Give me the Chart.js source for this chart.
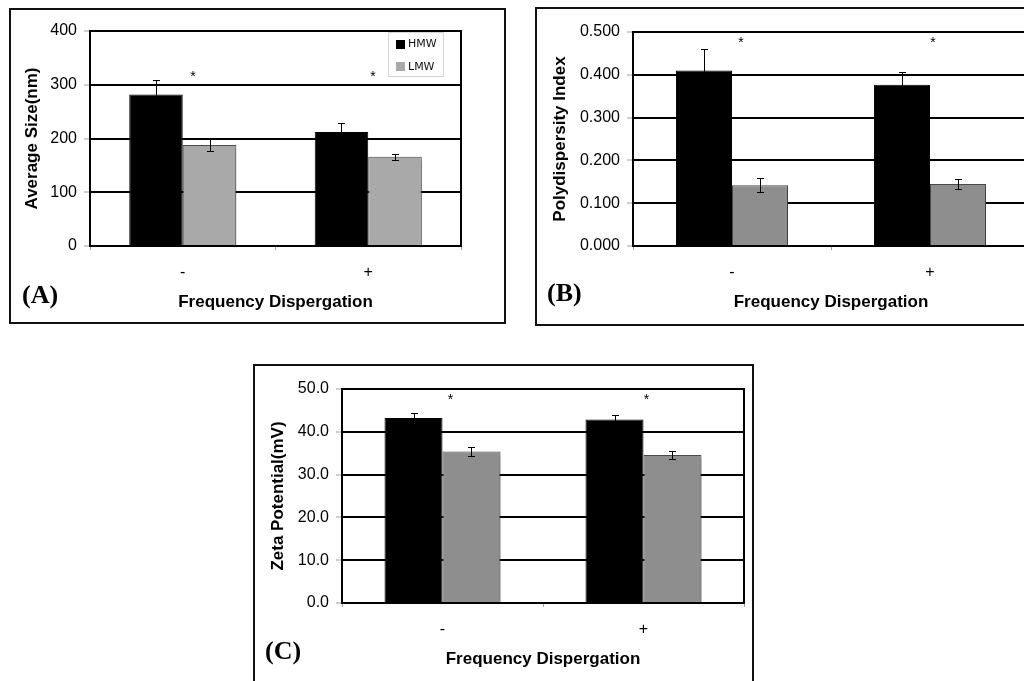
<!DOCTYPE html>
<html>
<head>
<meta charset="utf-8">
<script src="https://cdn.jsdelivr.net/npm/chart.js@4.4.0/dist/chart.umd.min.js"></script>
<style>
  html, body { margin: 0; padding: 0; background: #fff; width: 1024px; height: 681px; overflow: hidden; position: relative; }
  .box { position: absolute; box-sizing: border-box; border: 2px solid #111; background: #fff; }
  canvas { position: absolute; }
  .tag { position: absolute; font: bold 26px "Liberation Serif", "Times New Roman", serif; line-height: 26px; color: #000; }
</style>
</head>
<body>
<div class="box" style="left:9px;top:8px;width:497px;height:316px"></div>
<div class="box" style="left:535px;top:7px;width:600px;height:319px"></div>
<div class="box" style="left:253px;top:364px;width:501px;height:400px"></div>

<canvas id="chartSize" width="515" height="335" style="left:0;top:0"></canvas>
<canvas id="chartPdi" width="520" height="335" style="left:520px;top:0"></canvas>
<canvas id="chartZeta" width="510" height="321" style="left:250px;top:360px"></canvas>

<div class="tag" style="left:22px;top:282px">(A)</div>
<div class="tag" style="left:547px;top:280px">(B)</div>
<div class="tag" style="left:265px;top:638px">(C)</div>

<script>
// Shared categories and series
const categories = ['-', '+'];
const seriesNames = ['HMW', 'LMW'];
const xTitle = 'Frequency Dispergation';

// (A) Average size (nm)
const sizeHMW = [282, 212];
const sizeHMWErr = [27, 16];
const sizeLMW = [188, 166];
const sizeLMWErr = [11.5, 6];
const sizeTicks = [0, 100, 200, 300, 400];
const sizeStarX = [0.055, 1.026];
const sizeStarY = [322, 322];

// (B) Polydispersity index
const pdiHMW = [0.410, 0.377];
const pdiHMWErr = [0.050, 0.029];
const pdiLMW = [0.142, 0.145];
const pdiLMWErr = [0.016, 0.012];
const pdiTicks = [0, 0.1, 0.2, 0.3, 0.4, 0.5];
const pdiStarX = [0.045, 1.015];
const pdiStarY = [0.484, 0.484];

// (C) Zeta potential (mV)
const zetaHMW = [43.2, 42.9];
const zetaHMWErr = [1.1, 1.1];
const zetaLMW = [35.4, 34.6];
const zetaLMWErr = [1.1, 1.0];
const zetaTicks = [0, 10, 20, 30, 40, 50];
const zetaStarX = [0.04, 1.015];
const zetaStarY = [48.4, 48.4];

Chart.defaults.font.family = '"Liberation Sans", Arial, sans-serif';
Chart.defaults.color = '#000';

// Error bars: vertical whiskers with caps, centred on each bar
const errorBars = {
  id: 'errorBars',
  afterDatasetsDraw(chart) {
    const { ctx } = chart;
    const y = chart.scales.y;
    ctx.save();
    ctx.strokeStyle = '#000';
    ctx.lineWidth = 1;
    chart.data.datasets.forEach((ds, di) => {
      const meta = chart.getDatasetMeta(di);
      meta.data.forEach((bar, i) => {
        const v = ds.data[i], e = ds.errors[i];
        const x = Math.round(bar.x) + 0.5;
        const yTop = Math.round(y.getPixelForValue(v + e)) + 0.5;
        const yBot = Math.round(y.getPixelForValue(v - e)) + 0.5;
        ctx.beginPath();
        ctx.moveTo(x, yTop); ctx.lineTo(x, yBot);
        ctx.moveTo(x - 3.5, yTop); ctx.lineTo(x + 3.5, yTop);
        ctx.moveTo(x - 3.5, yBot); ctx.lineTo(x + 3.5, yBot);
        ctx.stroke();
      });
    });
    ctx.restore();
  }
};

// Significance asterisks placed in axis units
const stars = {
  id: 'stars',
  afterDatasetsDraw(chart, args, opts) {
    const { ctx } = chart;
    const xs = chart.scales.x, ys = chart.scales.y;
    ctx.save();
    ctx.fillStyle = '#000';
    ctx.font = '14px "Liberation Sans", Arial, sans-serif';
    ctx.textAlign = 'center';
    ctx.textBaseline = 'alphabetic';
    opts.x.forEach((xv, i) => {
      const px = xs.getPixelForValue(xv);
      const py = ys.getPixelForValue(opts.y[i]);
      ctx.fillText('*', px, py + 8);
    });
    ctx.restore();
  }
};

// Top and right edges of the plot frame
const frame = {
  id: 'frame',
  beforeDatasetsDraw(chart) {
    const { ctx, chartArea: a } = chart;
    ctx.save();
    ctx.strokeStyle = '#000';
    ctx.lineWidth = 2;
    ctx.beginPath();
    ctx.moveTo(a.left, a.top);
    ctx.lineTo(a.right, a.top);
    ctx.lineTo(a.right, a.bottom);
    ctx.stroke();
    ctx.restore();
  }
};

// Soft drop shadow behind the grey bars
const barShadow = {
  id: 'barShadow',
  beforeDatasetDraw(chart, args) {
    if (args.index !== 1) return;
    const ctx = chart.ctx;
    ctx.save();
    ctx.shadowColor = 'rgba(0,0,0,0.22)';
    ctx.shadowOffsetX = 4;
    ctx.shadowOffsetY = 3;
    ctx.shadowBlur = 2;
  },
  afterDatasetDraw(chart, args) {
    if (args.index !== 1) return;
    chart.ctx.restore();
  }
};

// Boxed legend in the upper right corner of the plot
const boxLegend = {
  id: 'boxLegend',
  afterDatasetsDraw(chart) {
    const { ctx, chartArea: a } = chart;
    const w = 56, h = 45;
    const left = a.right - 17 - w, top = a.top + 1;
    ctx.save();
    ctx.fillStyle = '#fff';
    ctx.fillRect(left, top, w, h);
    ctx.strokeStyle = '#d6d6d6';
    ctx.lineWidth = 1;
    ctx.strokeRect(left + 0.5, top + 0.5, w - 1, h - 1);
    ctx.font = '11px "DejaVu Sans", Verdana, sans-serif';
    ctx.textBaseline = 'middle';
    chart.data.datasets.forEach((ds, i) => {
      const cy = top + 12 + i * 22.5;
      ctx.fillStyle = ds.backgroundColor;
      ctx.fillRect(left + 8, Math.round(cy - 4.5), 9, 9);
      ctx.fillStyle = '#111';
      ctx.fillText(ds.label, left + 20, cy + 0.5);
    });
    ctx.restore();
  }
};

function makePanel(id, p) {
  const plugins = [frame, barShadow, errorBars, stars];
  if (p.legend) plugins.push(boxLegend);
  return new Chart(document.getElementById(id), {
    type: 'bar',
    data: {
      labels: categories,
      datasets: [
        { label: seriesNames[0], data: p.hmw, errors: p.hmwErr, backgroundColor: '#000000',
          borderColor: '#000000', borderWidth: 1, barPercentage: 1, categoryPercentage: p.catPct },
        { label: seriesNames[1], data: p.lmw, errors: p.lmwErr, backgroundColor: p.lmwColor,
          borderColor: '#4a4a4a', borderWidth: 1, barPercentage: 1, categoryPercentage: p.catPct }
      ]
    },
    options: {
      responsive: false,
      animation: false,
      devicePixelRatio: 1,
      layout: { padding: { left: 0, top: p.padTop, right: p.padRight, bottom: 0 } },
      plugins: {
        legend: { display: false },
        tooltip: { enabled: false },
        stars: { x: p.starX, y: p.starY }
      },
      scales: {
        x: {
          grid: { display: true, drawOnChartArea: false, drawTicks: true, tickLength: 4,
                  tickColor: '#a0a0a0', tickWidth: 1, offset: true },
          border: { display: true, color: '#000', width: 2 },
          ticks: { font: { size: 16 }, padding: 13, color: '#000' },
          title: { display: true, text: xTitle, color: '#000',
                   font: { size: 17, weight: 'bold' }, padding: { top: 0, bottom: p.xTitlePad } },
          afterFit: s => { s.height = p.xHeight; }
        },
        y: {
          min: p.ticks[0],
          max: p.ticks[p.ticks.length - 1],
          afterBuildTicks: s => { s.ticks = p.ticks.map(v => ({ value: v })); },
          grid: { color: '#000', lineWidth: 2, drawTicks: true, tickLength: 6,
                  tickColor: '#a0a0a0', tickWidth: 1 },
          border: { display: true, color: '#000', width: 2 },
          ticks: { font: { size: 16 }, padding: 7, color: '#000',
                   callback: v => Number(v).toFixed(p.decimals) },
          title: { display: true, text: p.yTitle, color: '#000',
                   font: { size: 17, weight: 'bold' }, padding: { top: p.yTitlePad, bottom: 0 } },
          afterFit: s => { s.width = p.yWidth; }
        }
      }
    },
    plugins: plugins
  });
}

makePanel('chartSize', {
  hmw: sizeHMW, hmwErr: sizeHMWErr, lmw: sizeLMW, lmwErr: sizeLMWErr,
  ticks: sizeTicks, decimals: 0, starX: sizeStarX, starY: sizeStarY,
  yTitle: 'Average Size(nm)', lmwColor: '#a9a9a9', legend: true,
  catPct: 0.577, padTop: 31, padRight: 54, yWidth: 90, xHeight: 89,
  yTitlePad: 21.8, xTitlePad: 22.8
});

makePanel('chartPdi', {
  hmw: pdiHMW, hmwErr: pdiHMWErr, lmw: pdiLMW, lmwErr: pdiLMWErr,
  ticks: pdiTicks, decimals: 3, starX: pdiStarX, starY: pdiStarY,
  yTitle: 'Polydispersity Index', lmwColor: '#8e8e8e', legend: false,
  catPct: 0.566, padTop: 32, padRight: 11, yWidth: 113, xHeight: 89,
  yTitlePad: 29.8, xTitlePad: 22.8
});

makePanel('chartZeta', {
  hmw: zetaHMW, hmwErr: zetaHMWErr, lmw: zetaLMW, lmwErr: zetaLMWErr,
  ticks: zetaTicks, decimals: 1, starX: zetaStarX, starY: zetaStarY,
  yTitle: 'Zeta Potential(mV)', lmwColor: '#8e8e8e', legend: false,
  catPct: 0.577, padTop: 29, padRight: 16, yWidth: 92, xHeight: 78,
  yTitlePad: 17.8, xTitlePad: 11.8
});
</script>
</body>
</html>
